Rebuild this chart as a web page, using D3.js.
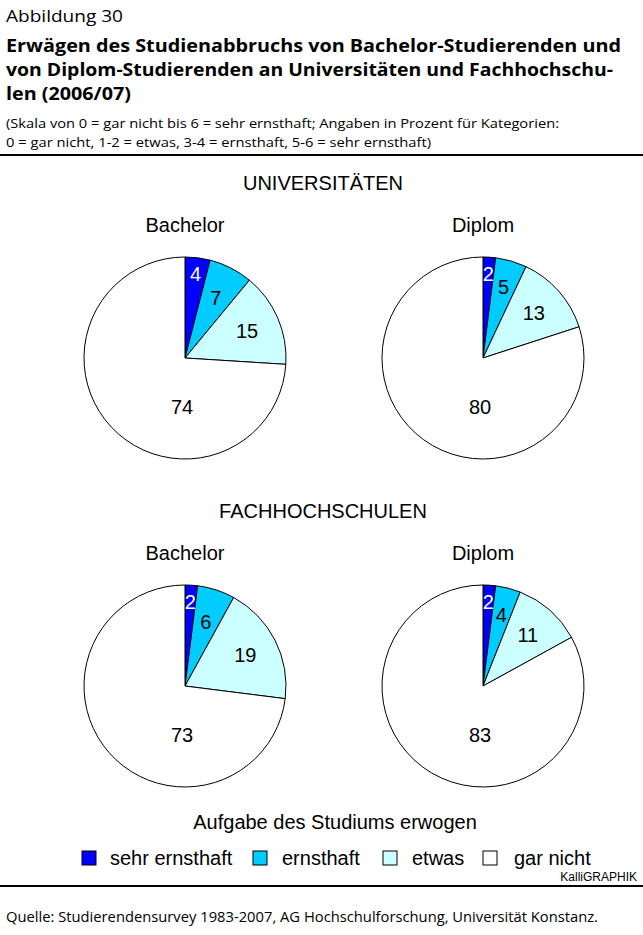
<!DOCTYPE html>
<html>
<head>
<meta charset="utf-8">
<script src="https://cdn.jsdelivr.net/npm/d3@7"></script>
<style>
  body { margin: 0; background: #fff; }
  svg { display: block; }
  .head { font-family: "Open Sans", sans-serif; fill: #000; }
  .chart { font-family: "Liberation Sans", Arial, sans-serif; fill: #000; }
</style>
</head>
<body>
<div id="chart"></div>
<script>
const width = 643,
    height = 935;

// Daten
const categories = ["sehr ernsthaft", "ernsthaft", "etwas", "gar nicht"];
const colors = ["#0000FF", "#00CCFF", "#CCFFFF", "#FFFFFF"];
const groups = ["UNIVERSITÄTEN", "FACHHOCHSCHULEN"];
const degrees = ["Bachelor", "Diplom"];
const uniBachelor = [4, 7, 15, 74];
const uniDiplom = [2, 5, 13, 80];
const fhBachelor = [2, 6, 19, 73];
const fhDiplom = [2, 4, 11, 83];

const pies = [
    { group: 0, degree: 0, values: uniBachelor },
    { group: 0, degree: 1, values: uniDiplom },
    { group: 1, degree: 0, values: fhBachelor },
    { group: 1, degree: 1, values: fhDiplom }
];

const svg = d3.select("#chart")
    .append("svg")
    .attr("width", width)
    .attr("height", height)
    .attr("viewBox", `0 0 ${width} ${height}`);

// Kopf
const head = svg.append("g").attr("class", "head");
head.append("text").text("Abbildung 30")
    .attr("x", 6).attr("y", 22).style("font-size", "17px")
    .attr("textLength", 117).attr("lengthAdjust", "spacingAndGlyphs");

const titleLines = [
    ["Erwägen des Studienabbruchs von Bachelor-Studierenden und", 615],
    ["von Diplom-Studierenden an Universitäten und Fachhochschu-", 607],
    ["len (2006/07)", 125]
];
titleLines.forEach((l, i) => {
    head.append("text").text(l[0])
        .attr("x", 6).attr("y", 52 + i * 24)
        .style("font-size", "18px").style("font-weight", "bold")
        .attr("textLength", l[1]).attr("lengthAdjust", "spacingAndGlyphs");
});

const subLines = [
    ["(Skala von 0 = gar nicht bis 6 = sehr ernsthaft; Angaben in Prozent für Kategorien:", 553],
    ["0  = gar nicht, 1-2 = etwas, 3-4 = ernsthaft, 5-6 = sehr ernsthaft)", 425]
];
subLines.forEach((l, i) => {
    head.append("text").text(l[0])
        .attr("x", 6).attr("y", 128 + i * 19)
        .style("font-size", "13px")
        .attr("textLength", l[1]).attr("lengthAdjust", "spacingAndGlyphs");
});

svg.append("line").attr("x1", 0).attr("x2", width)
    .attr("y1", 155).attr("y2", 155)
    .attr("stroke", "#000").attr("stroke-width", 2);

svg.append("line").attr("x1", 0).attr("x2", width)
    .attr("y1", 886).attr("y2", 886)
    .attr("stroke", "#000").attr("stroke-width", 2);

head.append("text").text("Quelle: Studierendensurvey 1983-2007, AG Hochschulforschung, Universität Konstanz.")
    .attr("x", 6).attr("y", 922).style("font-size", "14px")
    .attr("textLength", 592).attr("lengthAdjust", "spacingAndGlyphs");

// Diagramme
const chart = svg.append("g").attr("class", "chart");

const radius = 101;
const colX = d3.scalePoint().domain(degrees).range([185, 483]);
const groupY = d3.scalePoint().domain(groups).range([358, 686]);

groups.forEach(g => {
    chart.append("text").text(g)
        .attr("x", 323).attr("y", groupY(g) - 168)
        .attr("text-anchor", "middle").style("font-size", "20px");
});

const pie = d3.pie().sort(null).value(d => d);
const arc = d3.arc().innerRadius(0).outerRadius(radius);

pies.forEach(p => {
    const cx = colX(degrees[p.degree]),
        cy = groupY(groups[p.group]);

    chart.append("text").text(degrees[p.degree])
        .attr("x", cx).attr("y", cy - 126)
        .attr("text-anchor", "middle").style("font-size", "20px");

    const g = chart.append("g").attr("transform", `translate(${cx}, ${cy})`);
    const arcs = pie(p.values);

    g.selectAll("path")
        .data(arcs)
        .join("path")
        .attr("d", arc)
        .attr("fill", (d, i) => colors[i])
        .attr("stroke", "#000")
        .attr("stroke-width", 1)
        .attr("stroke-linejoin", "round");

    g.selectAll("text")
        .data(arcs)
        .join("text")
        .text(d => d.data)
        .attr("transform", (d, i) => {
            const span = d.endAngle - d.startAngle;
            let a = (d.startAngle + d.endAngle) / 2, r;
            if (span > Math.PI) { a = Math.PI + 0.06; r = radius * 0.48; }
            else if (i === 0) r = radius * 0.84;
            else if (d.data <= 5) r = radius * 0.73;
            else r = radius * 0.67;
            return `translate(${Math.sin(a) * r}, ${-Math.cos(a) * r})`;
        })
        .attr("text-anchor", "middle")
        .attr("dy", "0.36em")
        .style("font-size", "20px")
        .style("fill", (d, i) => i === 0 ? "#fff" : "#000");
});

// Legende
chart.append("text").text("Aufgabe des Studiums erwogen")
    .attr("x", 335).attr("y", 829)
    .attr("text-anchor", "middle").style("font-size", "20px");

const legendX = [82, 253, 383, 483];
const legend = chart.selectAll(".legend")
    .data(categories)
    .join("g")
    .attr("class", "legend")
    .attr("transform", (d, i) => `translate(${legendX[i]}, 851)`);

legend.append("rect")
    .attr("width", 14).attr("height", 14)
    .attr("fill", (d, i) => colors[i])
    .attr("stroke", "#000").attr("stroke-width", 1);

legend.append("text").text(d => d)
    .attr("x", (d, i) => i === 3 ? 31 : i === 0 ? 28 : 29)
    .attr("y", 14)
    .style("font-size", "20px");

chart.append("text").text("KalliGRAPHIK")
    .attr("x", 637).attr("y", 881)
    .attr("text-anchor", "end").style("font-size", "12px");
</script>
</body>
</html>
